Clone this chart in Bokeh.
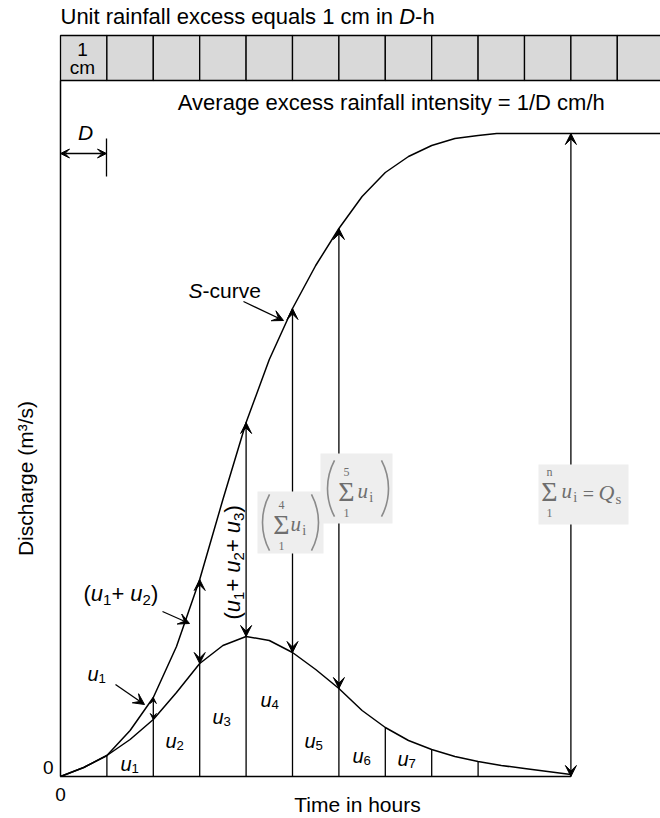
import math
from bokeh.plotting import figure
from bokeh.models import Range1d, Arrow, VeeHead
from bokeh.core.properties import value
from bokeh.embed import file_html
from bokeh.resources import INLINE

# ---------------- data ----------------
# unit hydrograph of duration D (ordinates in the drawing's discharge scale), time in units of D hours
uh_hours = [0, 0.5, 1, 1.5, 2, 2.5, 3, 3.5, 4, 4.5, 5, 5.5, 6, 6.5, 7, 7.5, 8, 8.5, 9, 9.5, 10, 10.5, 11]
uh_ordinates = [0, 9, 21, 37, 57, 84, 113, 131, 140, 136, 124, 107, 88, 66, 49, 36, 27, 20, 15, 11, 8, 5, 2]
# S-curve ordinates
s_hours = [0, 0.5, 1, 1.5, 2, 2.5, 3, 3.5, 4, 4.5, 5, 5.5, 6, 6.5, 7, 7.5, 8, 8.5, 9, 9.4, 13]
s_ordinates = [0, 9, 21, 46, 79, 130, 197, 277, 354, 417, 468, 511, 548, 580, 604, 620, 631, 638, 641, 643, 643]
# successive 1-cm rainfall-excess blocks, each D hours long
rain_block_start = list(range(13))
# vertical ordinate lines
uh_line_hours = [1, 7, 8, 9]            # up to the unit hydrograph
s_line_hours = [2, 3, 4, 5, 6]          # up to the S-curve
equilibrium_hour = 11                   # S-curve equilibrium ordinate Qs
# labels of the hydrograph strips
strip_names = ["1", "2", "3", "4", "5", "6", "7"]

UH = dict(zip(uh_hours, uh_ordinates))
SC = dict(zip(s_hours, s_ordinates))

# ---------------- geometry of the drawing ----------------
PX_PER_D = 46.4
X0_PAGE, Y0_PAGE = 60.0, 776.0
W, H = 660, 818
BASE_FIX = 0.35   # shift from the glyph anchor to the alphabetic baseline, in em


def X(px):
    return (px - X0_PAGE) / PX_PER_D


def V(py):
    return Y0_PAGE - py


p = figure(width=W, height=H,
           x_range=Range1d(X(0), X(W)), y_range=Range1d(V(H), V(0)),
           output_backend="svg", toolbar_location=None,
           x_axis_type=None, y_axis_type=None, min_border=0)
p.outline_line_color = None
p.background_fill_color = "white"
p.border_fill_color = "white"

INK = "black"
FONT = "Liberation Sans"

# Arial / Liberation Sans advance widths (1/1000 em)
WID = {'(': 333, ')': 333, 'u': 556, '+': 584, ' ': 278, 'S': 667, '-': 333, 'c': 500,
       'r': 333, 'v': 500, 'e': 556, 'D': 722, 'h': 556, 'i': 222, 'n': 556, 't': 278,
       'U': 722, 'a': 556, 'f': 278, 'l': 222, 'x': 500, 's': 500, 'q': 556, 'm': 833,
       'A': 667, 'g': 556, 'y': 500, '=': 584, '/': 278, 'T': 611, 'o': 556, 'Q': 778}


def tw(s):
    return sum(WID.get(c, 556) for c in s) / 1000.0


def rich(px, py, segs, size, angle=0.0, align="left", color=INK, font=FONT,
         sub_scale=0.68, sub_shift=0.16):
    """px, py: start (or centre) of the text on its alphabetic baseline."""
    total = 0.0
    laid = []
    for txt, kind in segs:
        fs = size * sub_scale if kind == "sub" else size
        laid.append((txt, kind, fs, total))
        total += tw(txt) * fs
    start = -total / 2 if align == "center" else 0.0
    for txt, kind, fs, off in laid:
        along = start + off
        perp = (size * sub_shift if kind == "sub" else 0.0) - BASE_FIX * fs
        if angle == 0:
            xo, yo = along, perp
        else:
            xo, yo = perp, -along
        p.text(x=[X(px)], y=[V(py)], text=[txt], x_offset=xo, y_offset=yo, angle=angle,
               text_font=value(font), text_font_size=f"{fs:.1f}px",
               text_font_style="italic" if kind == "i" else "normal",
               text_align="left", text_baseline="alphabetic", text_color=color)


def plain(px, py, txt, size, align="center", baseline="alphabetic", angle=0.0,
          style="normal", color=INK, font=FONT):
    fix = -BASE_FIX * size if baseline == "alphabetic" else 0.0
    xo, yo = (0.0, fix) if angle == 0 else (fix, 0.0)
    p.text(x=[X(px)], y=[V(py)], text=[txt], angle=angle, x_offset=xo, y_offset=yo,
           text_font=value(font), text_font_size=f"{size}px", text_font_style=style,
           text_align=align, text_baseline=baseline, text_color=color)


def head(t, v, direction, size=11):
    d = 12 if direction == "up" else -12
    p.add_layout(Arrow(x_start=t, y_start=v - d, x_end=t, y_end=v,
                       end=VeeHead(size=size, fill_color=INK, line_color=INK, line_width=1),
                       line_alpha=0))


def leader(px0, py0, px1, py1, size=11):
    p.add_layout(Arrow(x_start=X(px0), y_start=V(py0), x_end=X(px1), y_end=V(py1),
                       end=VeeHead(size=size, fill_color=INK, line_color=INK, line_width=1),
                       line_color=INK, line_width=1.3))


# ---------------- rainfall bar ----------------
p.quad(left=rain_block_start, right=[b + 1 for b in rain_block_start],
       bottom=V(80), top=V(35), fill_color="#d9d9d9", line_color=INK, line_width=1.3)
plain(82, 56, "1", 19)
plain(82, 74, "cm", 19)

rich(60, 24, [("Unit rainfall excess equals 1 cm in ", "n"), ("D", "i"), ("-h", "n")], 22)
rich(391, 110, [("Average excess rainfall intensity = 1/D cm/h", "n")], 22, align="center")

# ---------------- axes ----------------
p.line([0, 0], [0, V(80)], line_color=INK, line_width=1.5)
p.line([0, equilibrium_hour], [0, 0], line_color=INK, line_width=1.5)
plain(47.7, 774, "0", 19)
plain(60, 801, "0", 19)
plain(357, 811, "Time in hours", 21)
plain(32.5, 478, "Discharge (m³/s)", 21, angle=math.pi / 2)

# ---------------- curves ----------------
p.line(uh_hours, uh_ordinates, line_color=INK, line_width=1.5)
p.line(s_hours, s_ordinates, line_color=INK, line_width=1.5)

# ---------------- ordinate lines ----------------
seg_x = uh_line_hours + s_line_hours + [equilibrium_hour]
seg_top = [UH[t] for t in uh_line_hours] + [SC[t] for t in s_line_hours] + [SC[s_hours[-1]]]
p.segment(x0=seg_x, y0=[0] * len(seg_x), x1=seg_x, y1=seg_top, line_color=INK, line_width=1.3)

for t in s_line_hours:
    small = 6 if t == 2 else 11
    head(t, SC[t], "up", small)
    head(t, UH[t], "down", small)
head(equilibrium_hour, SC[s_hours[-1]], "up")
head(equilibrium_hour, 0, "down")

# D marker
p.add_layout(Arrow(x_start=X(60), y_start=V(153), x_end=X(106), y_end=V(153),
                   start=VeeHead(size=9, fill_color=INK, line_color=INK, line_width=1),
                   end=VeeHead(size=9, fill_color=INK, line_color=INK, line_width=1),
                   line_color=INK, line_width=1.3))
p.line([X(106), X(106)], [V(138), V(176)], line_color=INK, line_width=1.3)
plain(85, 139, "D", 21, style="italic")

# ---------------- labels ----------------
strip_pos = [(120, 770), (165, 747), (212, 723), (260, 706), (304, 747), (352, 762), (397, 765)]
for name, (lx, ly) in zip(strip_names, strip_pos):
    rich(lx, ly, [("u", "i"), (name, "sub")], 20, sub_scale=0.66, sub_shift=0.15)

rich(87, 680, [("u", "i"), ("1", "sub")], 20, sub_scale=0.66, sub_shift=0.15)
leader(115, 684, 144, 704)

rich(83, 601, [("(", "n"), ("u", "i"), ("1", "sub"), ("+ ", "n"), ("u", "i"), ("2", "sub"), (")", "n")], 22)
leader(162, 611, 189, 623)

rich(188, 297, [("S", "i"), ("-curve", "n")], 21)
leader(243, 301, 283, 320)

rich(240, 619, [("(", "n"), ("u", "i"), ("1", "sub"), ("+ ", "n"), ("u", "i"), ("2", "sub"),
                ("+ ", "n"), ("u", "i"), ("3", "sub"), (")", "n")], 22, angle=math.pi / 2)

# ---------------- summation labels (pale boxes) ----------------
GREY = "#6e6e6e"
SERIF = "Liberation Serif"
boxes = [(257, 323, 491, 553), (320, 392, 453, 523), (538, 628, 464, 524)]
p.quad(left=[X(b[0]) for b in boxes], right=[X(b[1]) for b in boxes],
       bottom=[V(b[3]) for b in boxes], top=[V(b[2]) for b in boxes],
       fill_color="#eeeeee", line_color=None)


def parens(xl, xr, yc):
    r = 60
    p.arc(x=[X(xl + r)], y=[V(yc)], radius=r, radius_units="screen",
          start_angle=math.radians(152), end_angle=math.radians(208),
          line_color="#8a8a8a", line_width=1.6)
    p.arc(x=[X(xr - r)], y=[V(yc)], radius=r, radius_units="screen",
          start_angle=math.radians(-28), end_angle=math.radians(28),
          line_color="#8a8a8a", line_width=1.6)


def sigma(cx, cy, top, bottom):
    plain(cx, cy, "Σ", 28, baseline="middle", color=GREY, font=SERIF)
    plain(cx, cy - 20, top, 12, baseline="middle", color=GREY, font=SERIF)
    plain(cx, cy + 21, bottom, 12, baseline="middle", color=GREY, font=SERIF)


parens(262, 318, 522)
sigma(281, 524, "4", "1")
rich(290, 531, [("u", "i"), ("i", "sub")], 21, color=GREY, font=SERIF)

parens(327, 388, 488)
sigma(346, 491, "5", "1")
rich(357, 498, [("u", "i"), ("i", "sub")], 21, color=GREY, font=SERIF)

sigma(549, 491, "n", "1")
rich(561, 498, [("u", "i"), ("i", "sub")], 21, color=GREY, font=SERIF)
plain(588, 493, "=", 20, baseline="middle", color=GREY, font=SERIF)
rich(598, 500, [("Q", "i"), ("s", "sub")], 22, color=GREY, font=SERIF)

open("out.html", "w").write(file_html(p, INLINE))
